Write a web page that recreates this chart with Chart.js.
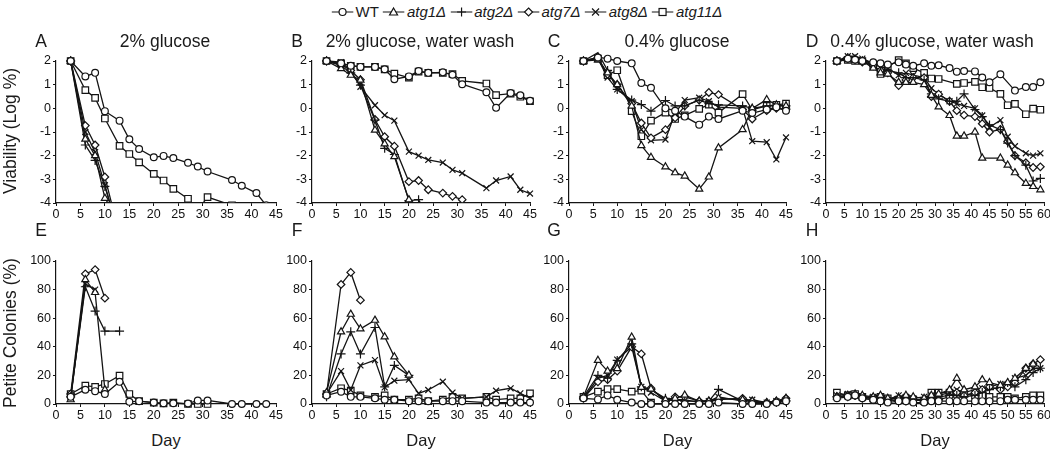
<!DOCTYPE html>
<html>
<head>
<meta charset="utf-8">
<script src="https://cdn.jsdelivr.net/npm/chart.js@4.4.0/dist/chart.umd.min.js"></script>
<style>
  body { margin: 0; width: 1050px; height: 451px; overflow: hidden; background: #fff;
         font-family: "Liberation Sans", Arial, sans-serif; color: #1a1a1a; position: relative; }
  canvas { position: absolute; }
  .txt { position: absolute; white-space: nowrap; line-height: 1; }
  .ctr { transform: translate(-50%, -50%); }
  .ytitle { transform: translate(-50%, -50%) rotate(-90deg); font-size: 17.5px; }
  #legend { position: absolute; top: 3px; left: 527px; transform: translateX(-50%); display: flex;
            align-items: center; font-size: 15px; white-space: nowrap; }
  #legend span.item { display: inline-flex; align-items: center; margin: 0 2px; }
  #legend i { font-style: italic; }
</style>
</head>
<body>
<div id="legend"></div>

<script>
const seriesNames = ['WT', 'atg1Δ', 'atg2Δ', 'atg7Δ', 'atg8Δ', 'atg11Δ'];
const pointStyles = ['circle', 'triangle', 'cross', 'rectRot', 'crossRot', 'rect'];
const pointSizes = [3.4, 4.1, 4.5, 3.8, 4.2, 4.6];

const panelLetters = ['A', 'B', 'C', 'D', 'E', 'F', 'G', 'H'];
const panelTitles = ['2% glucose', '2% glucose, water wash', '0.4% glucose', '0.4% glucose, water wash'];
const viabilityTicks = [-4, -3, -2, -1, 0, 1, 2];
const petiteTicks = [0, 20, 40, 60, 80, 100];

// days sampled
const days45 = [3, 6, 8, 10, 13, 15, 17, 20, 22, 24, 27, 29, 31, 36, 38, 41, 43, 45];
const days60 = [3, 6, 8, 10, 13, 15, 17, 20, 22, 24, 27, 29, 31, 34, 36, 38, 41, 43, 45, 48, 50, 52, 55, 57, 59];

// A: 2% glucose, viability (log %)
const wtA    = [2, 1.35, 1.5, -0.12, -0.52, -1.31, -1.72, -2.07, -2.01, -2.1, -2.3, -2.46, -2.67, -3.03, -3.27, -3.58, -4.1];
const atg1A  = [2, -1.3, -2.0, -3.8, -4.75];
const atg2A  = [2, -1.55, -2.2, -3.3, -5.4];
const atg7A  = [2, -0.73, -1.55, -2.9, -5.35];
const atg8A  = [2, -1.0, -1.85, -3.25, -5.4];
const atg11A = [2, 0.77, 0.44, -0.43, -1.59, -1.93, -2.28, -2.77, -3.05, -3.4, -3.82, -4.3, -3.75, -4.1];

// B: 2% glucose, water wash
const wtB    = [2, 1.9, 1.8, 1.75, 1.75, 1.65, 1.23, 1.35, 1.58, 1.5, 1.52, 1.42, 1.02, 0.68, 0.02, 0.65, 0.55, 0.32];
const atg1B  = [2, 1.68, 1.4, 1.19, -0.92, -1.5, -2.04, -3.86, -4.6];
const atg2B  = [2, 1.8, 1.5, 0.98, -0.5, -1.69, -1.95, -3.9, -3.86, -4.6];
const atg7B  = [2, 1.85, 1.6, 1.21, -0.47, -1.2, -1.6, -3.1, -3.05, -3.44, -3.58, -3.72, -3.86];
const atg8B  = [2, 1.95, 1.6, 0.91, 0.13, -0.29, -0.52, -1.83, -2.0, -2.18, -2.29, -2.6, -2.74, -3.37, -3.05, -2.88, -3.44, -3.6];
const atg11B = [2, 1.9, 1.8, 1.75, 1.75, 1.65, 1.47, 1.3, 1.55, 1.5, 1.5, 1.45, 1.16, 1.05, 0.56, 0.62, 0.49, 0.3];

// C: 0.4% glucose
const wtC    = [2, 2.15, 2.1, 2.0, 1.9, 1.07, 0.87, 0.0, -0.1, -0.35, -0.69, -0.35, -0.45, -0.1, -0.2, -0.05, 0.05, -0.1];
const atg1C  = [2, 2.05, 1.5, 1.0, 0.1, -1.57, -2.07, -2.47, -2.72, -2.86, -3.41, -2.9, -1.67, -0.9, 0.0, 0.37, 0.15, 0.1];
const atg2C  = [2, 2.35, 1.6, 0.8, 0.35, 0.16, -0.12, 0.33, 0.1, 0.1, 0.35, 0.2, 0.15, 0.1, 0.0, 0.1, 0.1, 0.1];
const atg7C  = [2, 2.15, 1.44, 1.0, 0.2, -0.62, -1.25, -0.9, -0.4, 0.1, 0.35, 0.67, 0.58, -0.05, -0.45, -0.1, 0.0, -0.05];
const atg8C  = [2, 2.1, 1.3, 0.8, 0.3, -0.9, -1.35, -1.32, -0.2, 0.35, 0.45, 0.3, 0.05, 0.0, -1.39, -1.43, -2.16, -1.23];
const atg11C = [2, 2.1, 1.4, 1.61, -0.12, -1.18, -0.52, -0.18, -0.45, -0.3, -0.02, 0.16, -0.18, 0.6, -0.06, 0.1, 0.15, 0.2];

// D: 0.4% glucose, water wash
const wtD    = [2, 2.1, 2.05, 2.0, 1.95, 1.9, 1.85, 1.95, 1.85, 1.8, 1.9, 1.8, 1.82, 1.7, 1.55, 1.58, 1.56, 1.3, 1.1, 1.44, null, 0.75, 0.9, 0.9, 1.1];
const atg1D  = [2, 2.1, 2.05, 2.0, 1.7, 1.5, 1.45, 1.1, 1.1, 1.1, 1.0, 0.55, 0.06, -0.3, -1.17, -1.17, -1.0, -2.1, null, -2.1, -2.4, -2.72, -3.17, -3.3, -3.44];
const atg2D  = [2, 2.15, 2.1, 2.0, 1.9, 1.8, 1.6, 1.5, 1.3, 1.3, 1.2, 0.61, 0.4, 0.3, 0.3, 0.61, -0.05, -0.35, -0.7, -0.9, -1.47, -2.0, -2.4, -3.07, -2.96];
const atg7D  = [2, 2.1, 2.05, 1.95, 1.8, 1.6, 1.5, 0.96, 1.2, 1.3, 1.3, 0.5, 0.6, 0.3, -0.1, -0.29, -0.35, -0.65, -1.0, -0.89, -1.4, -2.0, -2.3, -2.5, -2.47];
const atg8D  = [2, 2.2, 2.2, 2.1, 1.9, 1.75, 1.7, 1.4, 1.5, 1.4, 1.3, 0.85, 0.6, 0.3, 0.2, 0.1, 0.0, -0.3, -0.8, -0.5, -1.2, -1.6, -1.9, -2.0, -1.9];
const atg11D = [2, 2.05, 2.0, 2.0, 1.8, 1.45, 1.75, 2.04, 1.9, 1.7, 1.5, 1.26, 1.24, null, 1.03, 1.07, 1.12, 0.89, 0.86, 0.61, 0.13, 0.19, -0.25, -0.01, -0.06];

// E: 2% glucose, petite colonies (%)
const wtE    = [5, 10, 9, 7, 15.5, 1.5, 2, 1, 0.5, 0.5, 0.3, 2.5, 2.5, 0, 0, 0, 0];
const atg1E  = [3, 87, 78, 10];
const atg2E  = [5, 82, 65, 51, 51];
const atg7E  = [7, 91, 94, 74];
const atg8E  = [5, 84, 80];
const atg11E = [7, 12.8, 12, 14, 19.8, 7, 2, 1, 0.5, 1, 0, 0, 0];

// F: 2% glucose, water wash
const wtF    = [6, 8.6, 5, 5, 4, 3, 3, 2, 2, 2, 2, 2, 2, 1, 1, 1, 1, 1];
const atg1F  = [8, 50.5, 62.8, 52.6, 58.6, 47, 33, 20.2];
const atg2F  = [5, 35, 50.5, 35, 53.5, 12, 27, 20];
const atg7F  = [7, 83.6, 92, 72.6];
const atg8F  = [7, 23, 9.8, 27, 30.7, 11.6, 16.3, 17, 7.4, 9.8, 15.6, 8, 4, 5, 9.3, 11, 7.4, 4];
const atg11F = [7, 11, 9.3, 6, 5, 6, 3, 3, 4, 2, 3, 5, 4, 5, 3, 4, 4, 7.4];

// G: 0.4% glucose
const wtG    = [4, 3.2, 6, 3, 1, 0, 0, 0, 0, 0, 0, 0, 1, 0, 0, 0, 1, 2];
const atg1G  = [5, 30.5, 23, 24.8, 46.8, 11.6, 10.4, 3, 4, 6.2, 2, 2, 4, 3, 2, 1, 2, 4];
const atg2G  = [5, 20, 18, 30.5, 42, 12, 10, 4, 3, 2, 2, 2, 10.2, 2, 1, 1, 1, 2];
const atg7G  = [4, 15.5, 17, 23, 40, 35, 11, 2, 5, 5, 2, 2, 3, 4, 2, 1, 2, 4];
const atg8G  = [4, 18, 20, 31, 40, 12, 8, 2, 3, 3, 1, 2, 5, 2, 3, 1, 2, 3];
const atg11G = [5, 8.6, 10.4, 10.4, 8.6, 9.3, 1];

// H: 0.4% glucose, water wash
const wtH    = [4, 5, 6, 4, 3, 2, 1, 2, 2, 1, 1, 2, 2, 2, 2, 2, 2, 2, 2, 2, 3, 3, 3, 3, 3];
const atg1H  = [5, 6, 7, 6, 5, 6, 4, 4, 6, 5, 4, 6, 7, 10, 18, 10, 12, 17, 15, 13, 15, 18, 25, 28];
const atg2H  = [5, 6, 6, 5, 4, 5, 3, 5, 4, 3, 3, 4, 5, 6, 6, 5, 6, 8, 10, 12, 15, 12, 17, 22, 25];
const atg7H  = [5, 5, 6, 4, 3, 2, 3, 2, 2, 3, 2, 3, 3, 5, 8, 6, 8, 10, 12, 10, 12, 15, 25, 28, 31];
const atg8H  = [6, 7, 6, 5, 5, 4, 3, 6, 5, 4, 5, 6, 6, 8, 10, 8, 10, 11, 12, 14, 14, 18, 20, 25, 25];
const atg11H = [8, 6, 7, 5, 4, 5, 4, 3, 4, 3, 2, 8, 8, 8, 7, 7, 6, 6, 5, 5, 5, 4, 5, 6, 6];

const panels = [
    { days: days45, xMax: 45, series: [wtA, atg1A, atg2A, atg7A, atg8A, atg11A] },
    { days: days45, xMax: 45, series: [wtB, atg1B, atg2B, atg7B, atg8B, atg11B] },
    { days: days45, xMax: 45, series: [wtC, atg1C, atg2C, atg7C, atg8C, atg11C] },
    { days: days60, xMax: 60, series: [wtD, atg1D, atg2D, atg7D, atg8D, atg11D] },
    { days: days45, xMax: 45, series: [wtE, atg1E, atg2E, atg7E, atg8E, atg11E] },
    { days: days45, xMax: 45, series: [wtF, atg1F, atg2F, atg7F, atg8F, atg11F] },
    { days: days45, xMax: 45, series: [wtG, atg1G, atg2G, atg7G, atg8G, atg11G] },
    { days: days60, xMax: 60, series: [wtH, atg1H, atg2H, atg7H, atg8H, atg11H] },
];

// layout (chart area positions in page px)
const cols = [{ left: 56, width: 220 }, { left: 312, width: 218 }, { left: 569, width: 217 }, { left: 826, width: 218 }];
const rows = [{ top: 61, height: 142 }, { top: 261, height: 143 }];
const Y_AXIS_W = 40, X_AXIS_H = 24, PAD_T = 10, PAD_R = 10;
const FONT = '"Liberation Sans", Arial, sans-serif';
const INK = '#141414';

const addText = (text, x, y, size, cls = 'txt ctr') => {
    const el = document.createElement('div');
    el.className = cls;
    el.style.left = x + 'px';
    el.style.top = y + 'px';
    if (size) el.style.fontSize = size + 'px';
    el.textContent = text;
    document.body.appendChild(el);
    return el;
};

const makeDatasets = (days, series, clip) => series.map((vals, s) => ({
    label: seriesNames[s],
    data: days.map((d, i) => ({ x: d, y: vals[i] })).filter(p => p.y !== undefined && p.y !== null),
    borderColor: INK,
    borderWidth: 1.3,
    backgroundColor: '#fff',
    pointStyle: pointStyles[s],
    pointRadius: pointSizes[s],
    pointBorderWidth: 1.2,
    pointBorderColor: INK,
    pointBackgroundColor: '#fff',
    spanGaps: true,
    tension: 0,
    clip: clip,
}));

const config = (panel, isTop) => ({
    type: 'line',
    data: { datasets: makeDatasets(panel.days, panel.series, isTop ? { left: 8, top: 10, right: 8, bottom: 0 } : 8) },
    options: {
        responsive: false,
        animation: false,
        devicePixelRatio: 1,
        layout: { padding: { left: 0, top: PAD_T, right: PAD_R, bottom: 0 } },
        plugins: { legend: { display: false }, tooltip: { enabled: false } },
        scales: {
            x: {
                type: 'linear', min: 0, max: panel.xMax,
                afterBuildTicks: (scale) => {
                    const t = [];
                    for (let v = 0; v <= panel.xMax; v += 5) t.push({ value: v });
                    scale.ticks = t;
                },
                afterFit: (scale) => { scale.height = X_AXIS_H; },
                grid: { drawOnChartArea: false, drawTicks: true, tickLength: 3, color: INK },
                border: { display: true, color: INK, width: 1.2 },
                ticks: { autoSkip: false, maxRotation: 0, padding: 1, color: '#111', font: { size: 12.5, family: FONT } },
            },
            y: {
                type: 'linear',
                min: isTop ? viabilityTicks[0] : petiteTicks[0],
                max: isTop ? viabilityTicks[viabilityTicks.length - 1] : petiteTicks[petiteTicks.length - 1],
                afterBuildTicks: (scale) => {
                    scale.ticks = (isTop ? viabilityTicks : petiteTicks).map(v => ({ value: v }));
                },
                afterFit: (scale) => { scale.width = Y_AXIS_W; },
                grid: { drawOnChartArea: false, drawTicks: true, tickLength: 3, color: INK },
                border: { display: true, color: INK, width: 1.2 },
                ticks: { padding: 2, color: '#111', font: { size: 12.5, family: FONT } },
            },
        },
    },
});

panels.forEach((panel, p) => {
    const isTop = p < 4;
    const col = cols[p % 4];
    const row = rows[isTop ? 0 : 1];
    const canvas = document.createElement('canvas');
    const w = col.width + Y_AXIS_W + PAD_R;
    const h = row.height + PAD_T + X_AXIS_H;
    canvas.width = w;
    canvas.height = h;
    canvas.style.width = w + 'px';
    canvas.style.height = h + 'px';
    canvas.style.left = (col.left - Y_AXIS_W) + 'px';
    canvas.style.top = (row.top - PAD_T) + 'px';
    document.body.appendChild(canvas);
    new Chart(canvas, config(panel, isTop));
});

// panel letters and titles
const letterX = [41, 297, 554, 812];
const titleX = [165, 420, 677, 932];
panelLetters.forEach((l, i) => {
    addText(l, letterX[i % 4], i < 4 ? 42 : 231, 17.5);
});
panelTitles.forEach((t, i) => addText(t, titleX[i], 42, 17.5));

// axis titles
addText('Viability (Log %)', 11, 131, null, 'txt ytitle');
addText('Petite Colonies (%)', 11, 333, null, 'txt ytitle');
cols.forEach((c) => addText('Day', c.left + c.width / 2, 440, 16.5));

// legend
const legendSvg = (style) => {
    const shapes = {
        circle: '<circle cx="11" cy="7" r="3.5"/>',
        triangle: '<polygon points="11,3 15,10 7,10"/>',
        cross: '<path d="M11 2.5V11.5M6.5 7H15.5"/>',
        rectRot: '<polygon points="11,3 15,7 11,11 7,7"/>',
        crossRot: '<path d="M7.5 3.5L14.5 10.5M14.5 3.5L7.5 10.5"/>',
        rect: '<rect x="7.5" y="3.5" width="7" height="7"/>',
    };
    return `<svg width="22" height="14" style="margin-right:2px"><g stroke="${INK}" stroke-width="1.2" fill="#fff">` +
        `<line x1="0" y1="7" x2="22" y2="7"/>${shapes[style]}</g></svg>`;
};
const legendDOM = document.querySelector('#legend');
legendDOM.innerHTML = seriesNames.map((name, s) => {
    const label = s === 0 ? name : `<i>${name}</i>`;
    return `<span class="item">${legendSvg(pointStyles[s])}${label}</span>`;
}).join('');
</script>
</body>
</html>
